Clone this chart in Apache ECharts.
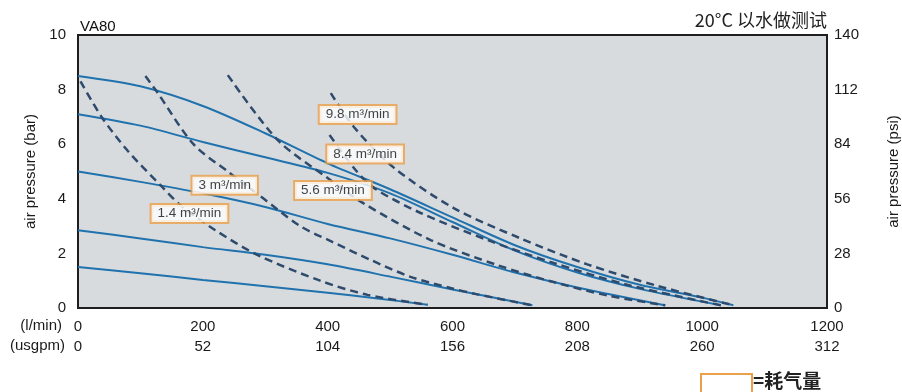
<!DOCTYPE html>
<html>
<head>
<meta charset="utf-8">
<script src="https://cdn.jsdelivr.net/npm/echarts@6/dist/echarts.min.js"></script>
<style>
html,body{margin:0;padding:0;background:#fff;}
#c{width:902px;height:392px;}
</style>
</head>
<body>
<div id="c"></div>
<script>
// ---- data ----
var lminTicks = [0, 200, 400, 600, 800, 1000, 1200];
var usgpmTicks = [0, 52, 104, 156, 208, 260, 312];
var barTicks = [0, 2, 4, 6, 8, 10];
var psiTicks = [0, 28, 56, 84, 112, 140];

// pump curves (flow l/min, pressure bar)
var curveA = [[0,8.5],[100,8.12],[200,7.4],[300,6.4],[400,5.3],[500,4.35],[600,3.32],[700,2.3],[800,1.5],[900,0.85],[1000,0.38],[1050,0.1]];
var curveB = [[0,7.1],[100,6.68],[200,6.08],[300,5.52],[400,4.95],[500,4.2],[600,3.15],[700,2.1],[800,1.3],[900,0.7],[1030,0.1]];
var curveC = [[0,5.0],[100,4.62],[200,4.2],[300,3.7],[400,3.08],[500,2.55],[600,1.95],[700,1.3],[800,0.75],[940,0.1]];
var curveD = [[0,2.85],[100,2.55],[200,2.23],[300,1.95],[400,1.6],[500,1.15],[600,0.68],[728,0.1]];
var curveE = [[0,1.5],[100,1.27],[200,1.03],[300,0.8],[400,0.56],[480,0.35],[560,0.12]];

// air consumption curves
var air14 = [[4,8.3],[39,6.96],[80,5.75],[132,4.5],[164,3.77],[220,2.85],[288,1.94],[388,1.0],[464,0.48],[560,0.12]];
var air3 = [[108,8.5],[127,7.9],[185,6.0],[240,5.0],[292,4.1],[356,3.0],[405,2.45],[470,1.75],[533,1.14],[597,0.73],[640,0.5],[728,0.1]];
var air56 = [[240,8.53],[320,6.15],[400,4.76],[457,3.84],[565,2.49],[672,1.57],[762,0.95],[850,0.45],[941,0.1]];
var air84 = [[403,6.34],[442,5.13],[474,4.4],[549,3.48],[656,2.49],[762,1.65],[880,0.85],[1030,0.1]];
var air98 = [[405,7.87],[442,6.63],[505,5.16],[602,3.66],[709,2.55],[816,1.6],[930,0.8],[1050,0.1]];

var airLabels = ['9.8 m³/min', '8.4 m³/min', '5.6 m³/min', '3 m³/min', '1.4 m³/min'];
var airLabelPos = [[448,7.09],[460,5.64],[408.5,4.3],[235,4.5],[178.6,3.46]];

// ---- chart ----
var FONT = '"Liberation Sans", Arial, sans-serif';
var solidColor = '#1f72ad';
var dashColor = '#2e4b6d';

function solid(d){
  return {type:'line', data:d, smooth:0.3, symbol:'none', silent:true,
    lineStyle:{color:solidColor, width:2}, z:3};
}
function dashed(d){
  return {type:'line', data:d, smooth:0.3, symbol:'none', silent:true,
    lineStyle:{color:dashColor, width:2.5, type:[8,5]}, z:4};
}

var chart = echarts.init(document.getElementById('c'), null, {renderer:'canvas'});
var option = {
  animation:false,
  textStyle:{fontFamily:FONT},
  grid:{left:78, right:75, top:35, bottom:84, outerBoundsMode:'none', containLabel:false,
        show:true, backgroundColor:'#d8dbde', borderColor:'#1e1e1e', borderWidth:2, z:1},
  xAxis:{
    type:'value', min:0, max:1200, interval:200,
    axisLine:{show:false}, axisTick:{show:false},
    splitLine:{show:true, lineStyle:{color:'#8c8c8c', width:1}},
    axisLabel:{
      margin:9, color:'#1a1a1a', fontSize:15, fontFamily:FONT, lineHeight:20,
      formatter:function(v){ var i = lminTicks.indexOf(v); return v + '\n' + usgpmTicks[i]; }
    }
  },
  yAxis:[
    {type:'value', min:0, max:10, interval:2, position:'left',
     name:'air pressure (bar)', nameLocation:'middle', nameGap:40, nameRotate:90,
     nameTextStyle:{fontSize:15, color:'#1a1a1a', fontFamily:FONT},
     axisLine:{show:false}, axisTick:{show:false},
     splitLine:{show:true, lineStyle:{color:'#8c8c8c', width:1}},
     axisLabel:{margin:12, color:'#1a1a1a', fontSize:15, fontFamily:FONT}},
    {type:'value', min:0, max:140, interval:28, position:'right',
     name:'air pressure (psi)', nameLocation:'middle', nameGap:59, nameRotate:90,
     nameTextStyle:{fontSize:15, color:'#1a1a1a', fontFamily:FONT},
     axisLine:{show:false}, axisTick:{show:false}, splitLine:{show:false},
     axisLabel:{margin:7, color:'#1a1a1a', fontSize:15, fontFamily:FONT}}
  ],
  series:[
    solid(curveA), solid(curveB), solid(curveC), solid(curveD), solid(curveE),
    dashed(air14), dashed(air3), dashed(air56), dashed(air84), dashed(air98),
    {type:'scatter', symbolSize:0, silent:true, z:10,
     data: airLabelPos.map(function(p,i){ return {value:p, name:airLabels[i]}; }),
     label:{show:true, position:'inside', formatter:'{b}', color:'#111', fontSize:13.5, fontFamily:FONT,
       backgroundColor:'#ffffff', borderColor:'#eba04a', borderWidth:2, padding:[2,6,1,6]}}
  ],
  graphic:[
    {type:'text', left:80, top:19, style:{text:'VA80', font:'15px ' + FONT, fill:'#111'}},
    {type:'text', right:75, top:11, style:{text:'20°C 以水做测试', font:'18px "Noto Sans CJK SC", ' + FONT, fill:'#222'}},
    {type:'text', right:840, top:318, style:{text:'(l/min)', font:'15px ' + FONT, fill:'#1a1a1a'}},
    {type:'text', right:837, top:338, style:{text:'(usgpm)', font:'15px ' + FONT, fill:'#1a1a1a'}},
    {type:'rect', shape:{x:701, y:374, width:51, height:20}, style:{fill:'#fff', stroke:'#eba04a', lineWidth:2}},
    {type:'text', left:753, top:371, style:{text:'=耗气量', font:'bold 19px "Noto Sans CJK SC", ' + FONT, fill:'#222'}}
  ]
};
chart.setOption(option);
</script>
</body>
</html>
